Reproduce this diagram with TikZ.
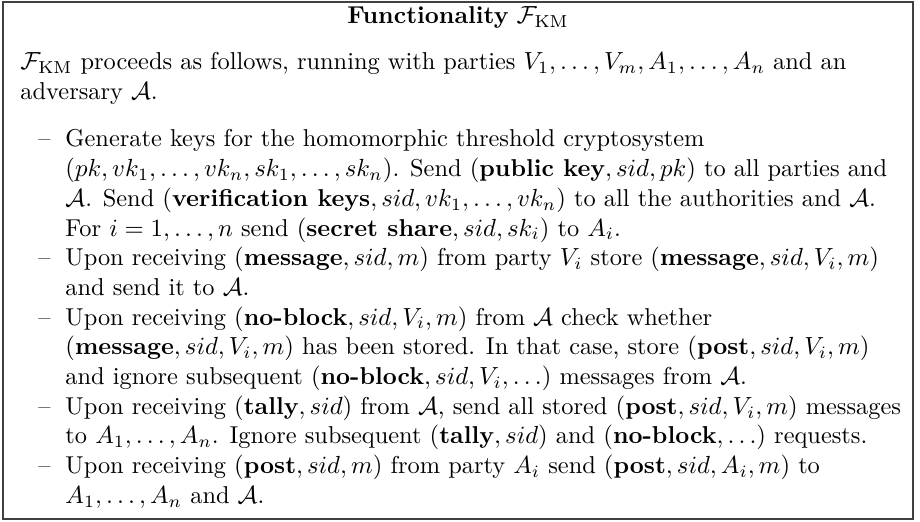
\documentclass[tikz,border=0pt]{standalone}
\usepackage{amsmath}
\begin{document}
\begin{tikzpicture}[x=0.404pt,y=-0.404pt,
  every node/.style={font=\fontsize{9.85}{12}\selectfont},
  frame/.style={draw=black!75, line width=0.75pt},
  textline/.style={anchor=base west, inner sep=0pt},
  dashmark/.style={anchor=base west, inner sep=0pt}]
\useasboundingbox (0,0) rectangle (920,522);
\draw[frame] (3,2) rectangle (913,519);
\node[anchor=base, inner sep=0pt] (title) at (458,24) {\textbf{Functionality} $\mathcal{F}_{\mathrm{KM}}$};
\node[textline] (intro1) at (20,70) {$\mathcal{F}_{\mathrm{KM}}$ proceeds as follows, running with parties $V_1,\ldots,V_m,A_1,\ldots,A_n$ and an};
\node[textline] (intro2) at (20,99.7) {adversary $\mathcal{A}$.};
% items
\node[dashmark] (d1) at (38,147.0) {\textendash};
\node[textline] (l0) at (65,147.0) {Generate keys for the homomorphic threshold cryptosystem};
\node[textline] (l1) at (65,176.7) {$(pk,vk_1,\ldots,vk_n,sk_1,\ldots,sk_n)$. Send $(\textbf{public key},sid,pk)$ to all parties and};
\node[textline] (l2) at (65,206.4) {$\mathcal{A}$. Send $(\textbf{verification keys},sid,vk_1,\ldots,vk_n)$ to all the authorities and $\mathcal{A}$.};
\node[textline] (l3) at (65,236.1) {For $i=1,\ldots,n$ send $(\textbf{secret share},sid,sk_i)$ to $A_i$.};
\node[dashmark] (d2) at (38,265.8) {\textendash};
\node[textline] (l4) at (65,265.8) {Upon receiving $(\textbf{message},sid,m)$ from party $V_i$ store $(\textbf{message},sid,V_i,m)$};
\node[textline] (l5) at (65,295.5) {and send it to $\mathcal{A}$.};
\node[dashmark] (d3) at (38,325.2) {\textendash};
\node[textline] (l6) at (65,325.2) {Upon receiving $(\textbf{no-block},sid,V_i,m)$ from $\mathcal{A}$ check whether};
\node[textline] (l7) at (65,354.9) {$(\textbf{message},sid,V_i,m)$ has been stored. In that case, store $(\textbf{post},sid,V_i,m)$};
\node[textline] (l8) at (65,384.6) {and ignore subsequent $(\textbf{no-block},sid,V_i,\ldots)$ messages from $\mathcal{A}$.};
\node[dashmark] (d4) at (38,414.3) {\textendash};
\node[textline] (l9) at (65,414.3) {Upon receiving $(\textbf{tally},sid)$ from $\mathcal{A}$, send all stored $(\textbf{post},sid,V_i,m)$ messages};
\node[textline] (l10) at (65,444.0) {to $A_1,\ldots,A_n$. Ignore subsequent $(\textbf{tally},sid)$ and $(\textbf{no-block},\ldots)$ requests.};
\node[dashmark] (d5) at (38,473.7) {\textendash};
\node[textline] (l11) at (65,473.7) {Upon receiving $(\textbf{post},sid,m)$ from party $A_i$ send $(\textbf{post},sid,A_i,m)$ to};
\node[textline] (l12) at (65,503.4) {$A_1,\ldots,A_n$ and $\mathcal{A}$.};
\end{tikzpicture}
\end{document}
